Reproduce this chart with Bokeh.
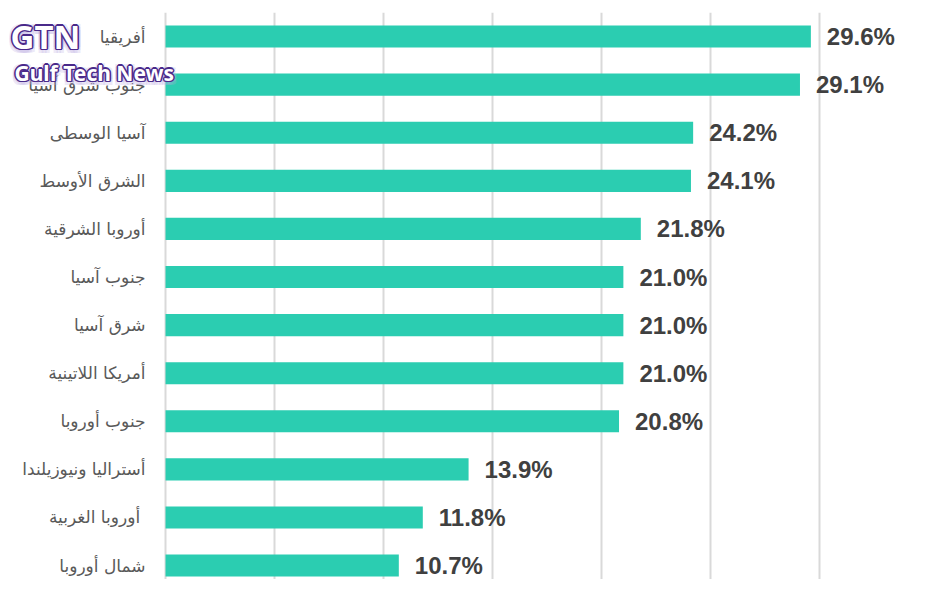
from bokeh.plotting import figure
from bokeh.models import ColumnDataSource, Label, Range1d, FixedTicker
from bokeh.core.properties import value
from bokeh.embed import file_html
from bokeh.resources import INLINE

regions = ["أفريقيا", "جنوب شرق آسيا", "آسيا الوسطى", "الشرق الأوسط", "أوروبا الشرقية",
           "جنوب آسيا", "شرق آسيا", "أمريكا اللاتينية", "جنوب أوروبا",
           "أستراليا ونيوزيلندا", "أوروبا الغربية ", "شمال أوروبا"]
values = [29.6, 29.1, 24.2, 24.1, 21.8, 21.0, 21.0, 21.0, 20.8, 13.9, 11.8, 10.7]
labels = [f"{v:.1f}%" for v in values]
x_ticks = [0, 5, 10, 15, 20, 25, 30, 35]

n = len(regions)
ypos = [n - 1 - i for i in range(n)]
zeros = [0] * n
src = ColumnDataSource(dict(y=ypos, region=regions, value=values, label=labels, zero=zeros))

p = figure(width=922, height=579, output_backend="svg", toolbar_location=None,
           y_range=Range1d(-0.29, n - 0.5), x_range=Range1d(-7.57, 34.72),
           min_border_left=0, min_border_right=0, min_border_top=12, min_border_bottom=0)
p.outline_line_color = None
p.background_fill_color = "white"
p.xaxis.visible = False
p.yaxis.visible = False

p.xgrid.ticker = FixedTicker(ticks=x_ticks)
p.xgrid.grid_line_color = "#d9d9d9"
p.xgrid.grid_line_width = 2
p.ygrid.grid_line_color = None

p.hbar(y="y", left="zero", right="value", height=0.46, source=src,
       fill_color="#2bcdb1", line_color=None)
p.text(x="value", y="y", text="label", source=src, x_offset=16,
       text_align="left", text_baseline="middle", text_font_size="24px",
       text_font_style="bold", text_color="#404040", text_font=value("Liberation Sans"))
p.text(x="zero", y="y", text="region", source=src, x_offset=-20,
       text_align="right", text_baseline="middle", text_font_size="17px",
       text_color="#595959", text_font=value("DejaVu Sans"))

# watermark: glow, outline, then white fill
marks = [("GTN", 10, 566, "33px"), ("Gulf Tech News", 14, 521, "21px")]
glow = [(dx, dy) for dx in (-3, 0, 3) for dy in (-3, 0, 3)]
outline = [(-1.5, 0), (1.5, 0), (0, -1.5), (0, 1.5), (-1, -1), (1, 1), (-1, 1), (1, -1)]
for txt, x, y, size in marks:
    common = dict(x_units="screen", y_units="screen", text=txt, text_font="Noto Sans",
                  text_font_size=size, text_font_style="bold",
                  text_baseline="top", text_align="left")
    for dx, dy in glow:
        p.add_layout(Label(x=x + dx, y=y + dy - 1, text_color="#b9a9e0",
                           text_alpha=0.25, **common))
    for dx, dy in outline:
        p.add_layout(Label(x=x + dx, y=y + dy, text_color="#4a2a8a", **common))
    p.add_layout(Label(x=x, y=y, text_color="white", **common))

open("out.html", "w").write(file_html(p, INLINE))
